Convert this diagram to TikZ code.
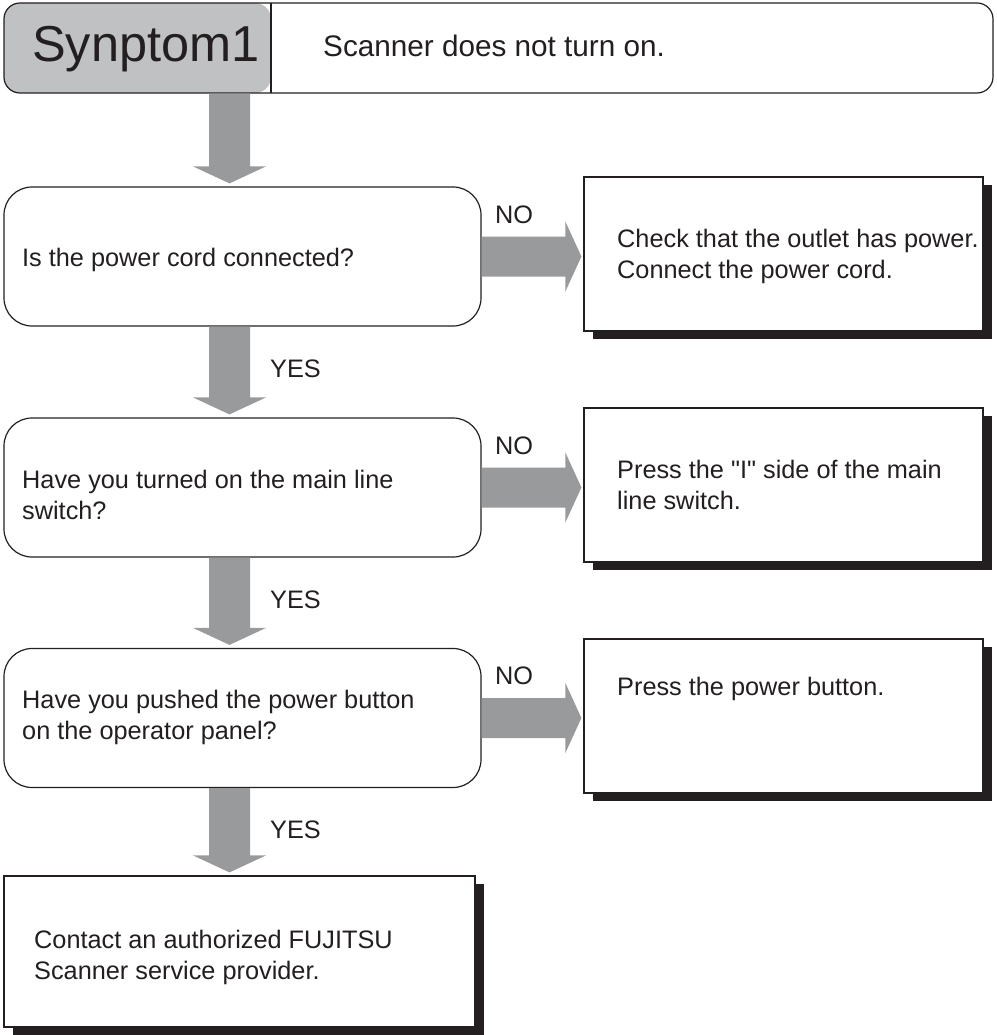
\documentclass[tikz,border=0pt]{standalone}
\usepackage{fontspec}
\setmainfont{Liberation Sans}
\newfontfamily\plainq{Liberation Sans}
\usetikzlibrary{calc,shadows}
\definecolor{ink}{HTML}{231F20}
\definecolor{headgray}{HTML}{C0C1C3}
\definecolor{arrowgray}{HTML}{999A9C}
\newcommand{\fatdown}[2]{%
  \coordinate (fa) at (#1.south -| ax);
  \coordinate (fb) at ($(#2.north -| ax)+(0,-3)$);
  \fill[fat] ($(fa)+(-20.5,0)$) -- ($(fb)+(-20.5,-17)$) -- ($(fb)+(-36.5,-17)$) -- (fb)
    -- ($(fb)+(36.5,-17)$) -- ($(fb)+(20.5,-17)$) -- ($(fa)+(20.5,0)$) -- cycle;}
\newcommand{\fatright}[2]{%
  \coordinate (fa) at (#1.east);
  \coordinate (fb) at ($(#2.west |- #1.east)+(-2,0)$);
  \fill[fat] ($(fa)+(0,-20)$) -- ($(fb)+(-16,-20)$) -- ($(fb)+(-16,-35)$) -- (fb)
    -- ($(fb)+(-16,35)$) -- ($(fb)+(-16,20)$) -- ($(fa)+(0,20)$) -- cycle;}
\begin{document}
\begin{tikzpicture}[x=1pt,y=-1pt,
  box/.style={draw=ink, line width=1.2pt, fill=white, inner sep=0pt},
  decision/.style={box, rounded corners=28pt, minimum width=477pt, minimum height=139pt},
  action/.style={box, minimum width=399pt, minimum height=154pt,
    drop shadow={shadow xshift=9pt, shadow yshift=-8pt, fill=ink, opacity=1}},
  header/.style={box, rounded corners=16pt, minimum width=989pt, minimum height=90pt,
    path picture={
      \fill[headgray] (path picture bounding box.north west) rectangle ($(path picture bounding box.south west)+(267,0)$);
      \draw[ink, line width=1.2pt] ($(path picture bounding box.north west)+(267,0)$) -- ($(path picture bounding box.south west)+(267,0)$);
    }},
  txt/.style={text=ink, font=\fontsize{25.3}{31}\selectfont, align=left, inner sep=0pt, anchor=west},
  fat/.style={fill=arrowgray, draw=none}]
\useasboundingbox (0,0) rectangle (996,1035);
\coordinate (ax) at (229.5,0);

% header
\node[header] (hdr) at (498.5,48) {};
\node[text=ink, font=\fontsize{50.5}{60}\selectfont, inner sep=0pt, anchor=base west] (sym) at (32,62) {Synptom1};
\node[text=ink, font=\fontsize{29.7}{36}\selectfont, inner sep=0pt, anchor=base west] (symtxt) at (323,57) {Scanner does not turn on.};

% decisions
\node[decision] (d1) at (242.5,256.5) {};
\node[decision] (d2) at (242.5,487.5) {};
\node[decision] (d3) at (242.5,718) {};
\node[txt] (t1) at (22,260) {Is the power cord connected?};
\node[txt] (t2) at (22,495) {Have you turned on the main line\\switch?};
\node[txt] (t3) at (22,717) {Have you pushed the power button\\on the operator panel?};

% actions
\node[action] (a1) at (783.5,254) {};
\node[action] (a2) at (783.5,485) {};
\node[action] (a3) at (783.5,716) {};
\node[txt] (u1) at (617,256) {Check that the outlet has power.\\Connect the power cord.};
\node[txt] (u2) at (617,485) {Press the {\plainq"}I{\plainq"} side of the main\\line switch.};
\node[txt] (u3) at (617,689) {Press the power button.};

% final
\node[box, minimum width=471pt, minimum height=151pt,
  drop shadow={shadow xshift=9pt, shadow yshift=-8pt, fill=ink, opacity=1}] (fin) at (239.5,951.5) {};
\node[txt] (uf) at (34,957) {Contact an authorized FUJITSU\\Scanner service provider.};

% arrows
\fatdown{hdr}{d1}
\fatdown{d1}{d2}
\fatdown{d2}{d3}
\fatdown{d3}{fin}
\fatright{d1}{a1}
\fatright{d2}{a2}
\fatright{d3}{a3}

% labels
\node[txt] (no1) at ($(d1.center)+(252.5,-42)$) {NO};
\node[txt] (no2) at ($(d2.center)+(252.5,-42)$) {NO};
\node[txt] (no3) at ($(d3.center)+(252.5,-42)$) {NO};
\node[txt] (yes1) at ($(d1.south -| ax)+(40.5,42)$) {YES};
\node[txt] (yes2) at ($(d2.south -| ax)+(40.5,42)$) {YES};
\node[txt] (yes3) at ($(d3.south -| ax)+(40.5,42)$) {YES};
\end{tikzpicture}
\end{document}
